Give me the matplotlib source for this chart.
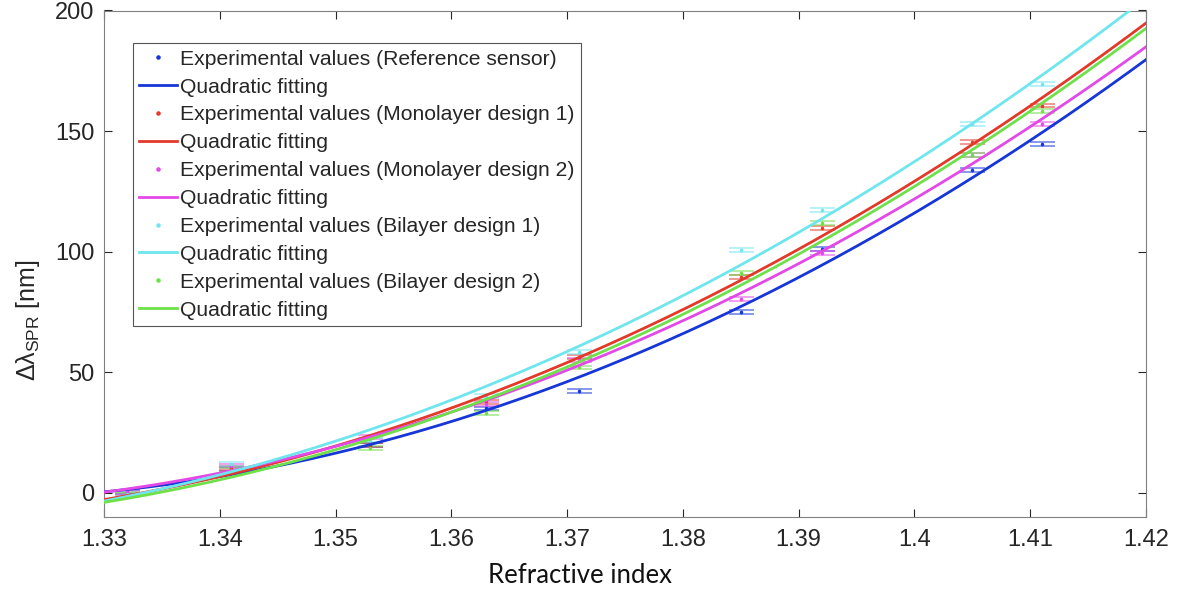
import numpy as np
import matplotlib
matplotlib.use("Agg")
import matplotlib.pyplot as plt

# ---- data ----
ri = [1.332, 1.341, 1.353, 1.363, 1.371, 1.385, 1.392, 1.405, 1.411]
ref_sensor = [0.5, 10.0, 20.0, 35.0, 42.3, 75.0, 101.2, 134.0, 144.8]
mono1 = [-0.5, 10.4, 20.0, 37.8, 56.4, 89.6, 110.0, 145.6, 160.6]
mono2 = [0.5, 11.0, 23.0, 37.0, 55.0, 80.5, 99.6, 140.0, 153.0]
bi1 = [-0.5, 12.0, 22.0, 40.0, 58.5, 100.8, 117.4, 153.0, 169.7]
bi2 = [-1.0, 9.5, 18.7, 33.0, 52.0, 91.0, 112.0, 140.0, 158.5]
err = 0.8

series_names = ["Reference sensor", "Monolayer design 1", "Monolayer design 2",
                "Bilayer design 1", "Bilayer design 2"]
series_vals = [ref_sensor, mono1, mono2, bi1, bi2]
colors = ["#1636d8", "#e2392a", "#e349e6", "#6fe6ee", "#6ee04a"]

xticks = [1.33, 1.34, 1.35, 1.36, 1.37, 1.38, 1.39, 1.40, 1.41, 1.42]
xtick_labels = ["1.33", "1.34", "1.35", "1.36", "1.37", "1.38", "1.39", "1.4", "1.41", "1.42"]
yticks = [0, 50, 100, 150, 200]

plt.rcParams['font.family'] = ['Liberation Sans', 'DejaVu Sans']
plt.rcParams['mathtext.fontset'] = 'custom'
plt.rcParams['mathtext.rm'] = 'Liberation Sans'
plt.rcParams['mathtext.it'] = 'Liberation Sans'

fig = plt.figure(figsize=(11.8, 5.94), dpi=100)
ax = fig.add_axes([104/1180, 77/594, 1042/1180, 506.5/594])

xfit = np.linspace(1.33, 1.42, 300)
handles = []
labels = []
for name, vals, c in zip(series_names, series_vals, colors):
    x = np.array(ri)
    y = np.array(vals)
    ax.errorbar(x, y, yerr=err, fmt='none', ecolor=c, elinewidth=1.0,
                capsize=9, capthick=1.2, alpha=0.6, zorder=2)
    pt, = ax.plot(x, y, linestyle='none', marker='.', markersize=3, color=c, zorder=3)
    coef = np.polyfit(x, y, 2)
    ln, = ax.plot(xfit, np.polyval(coef, xfit), color=c, lw=2.0, zorder=4)
    handles += [pt, ln]
    labels += ["Experimental values (%s)" % name, "Quadratic fitting"]

ax.set_xlim(1.33, 1.42)
ax.set_ylim(-10, 200)
ax.set_xticks(xticks)
ax.set_xticklabels(xtick_labels)
ax.set_yticks(yticks)
ax.tick_params(direction='in', length=6, width=0.8, colors='#262626', labelsize=17,
               top=True, right=True)
ax.tick_params(axis='x', pad=9)
ax.tick_params(axis='y', pad=7)
for s in ax.spines.values():
    s.set_color('#808080')
    s.set_linewidth(0.8)

ax.set_xlabel("Refractive index", fontsize=18.5, color='#111111', family=['Lato', 'DejaVu Sans'])
ax.xaxis.set_label_coords((580 - 104) / 1042, -0.09)
ax.set_ylabel(r"$\Delta\lambda_{\mathrm{SPR}}$ [nm]", fontsize=18, color='#262626')
ax.yaxis.set_label_coords((42 - 104) / 1042, (517 - 320) / 507)

leg = ax.legend(handles, labels, loc='upper left', bbox_to_anchor=(0.0278, 0.935),
                fontsize=15.2, frameon=True, fancybox=False, edgecolor='#555555',
                framealpha=1, handlelength=1.8, handletextpad=0.15, labelspacing=0.42,
                borderpad=0.3, borderaxespad=0, markerscale=1.5)
leg.get_frame().set_linewidth(0.8)
for t in leg.get_texts():
    t.set_color('#262626')

fig.savefig("out.png", dpi=100)
